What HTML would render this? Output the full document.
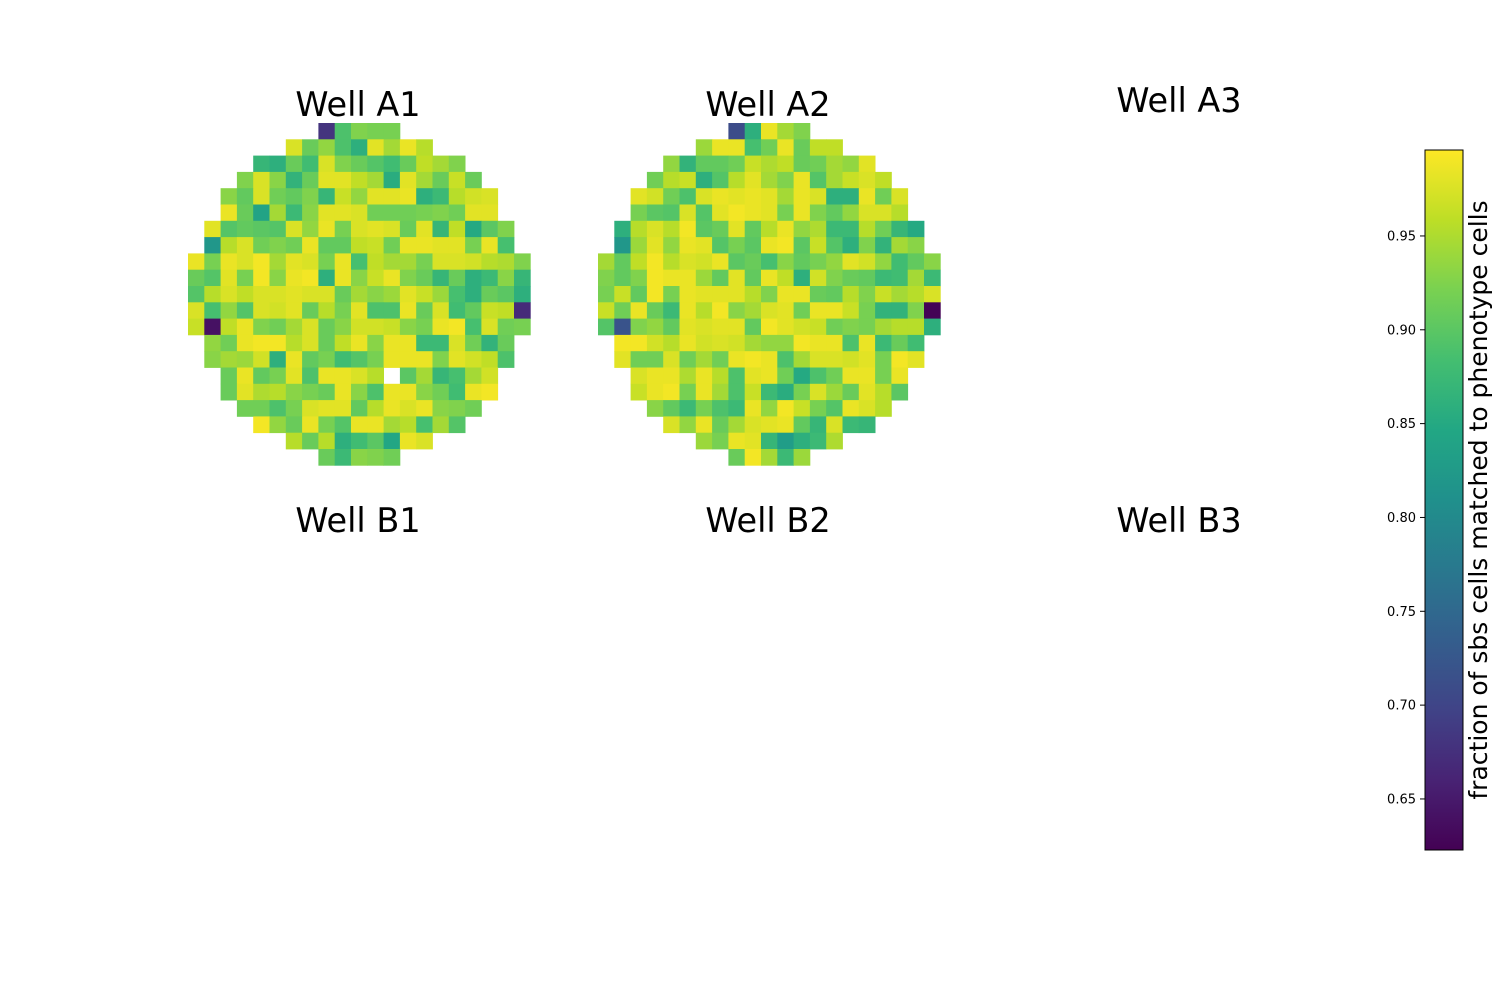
<!DOCTYPE html>
<html><head><meta charset="utf-8"><style>
html,body{margin:0;padding:0;background:#fff;}
svg{display:block;font-family:"DejaVu Sans","Liberation Sans",sans-serif;}
</style></head><body>
<svg id="chart" width="1500" height="1000" viewBox="0 0 1500 1000">
<rect width="1500" height="1000" fill="#fff"/>
<g id="wells"></g>
<g id="titles">
<text x="358" y="116" font-size="33.5" text-anchor="middle">Well A1</text>
<text x="768" y="116" font-size="33.5" text-anchor="middle">Well A2</text>
<text x="1179" y="112" font-size="33.5" text-anchor="middle">Well A3</text>
<text x="358" y="532" font-size="33.5" text-anchor="middle">Well B1</text>
<text x="768" y="532" font-size="33.5" text-anchor="middle">Well B2</text>
<text x="1179" y="532" font-size="33.5" text-anchor="middle">Well B3</text>
</g>
<defs><linearGradient id="cbgrad" x1="0" y1="1" x2="0" y2="0"></linearGradient></defs>
<g id="colorbar"></g>
<text transform="translate(1487,500) rotate(-90)" font-size="25" text-anchor="middle">fraction of sbs cells matched to phenotype cells</text>
</svg>
<script>
// column offsets where each row starts (rows 0..20)
const rowStarts = [8,6,4,3,2,2,1,1,0,0,0,0,0,1,1,2,2,3,4,6,8];
const wellA1 = [
[0.68,0.89,0.925,0.92,0.92],
[0.975,0.91,0.935,0.89,0.86,0.98,0.945,0.985,0.955],
[0.87,0.86,0.91,0.88,0.975,0.925,0.91,0.895,0.88,0.91,0.96,0.945,0.925],
[0.925,0.975,0.93,0.865,0.91,0.98,0.98,0.96,0.945,0.855,0.98,0.945,0.91,0.965,0.91],
[0.93,0.905,0.975,0.915,0.905,0.925,0.87,0.965,0.935,0.98,0.98,0.985,0.86,0.875,0.955,0.97,0.975],
[0.985,0.91,0.84,0.945,0.875,0.93,0.98,0.98,0.975,0.915,0.915,0.915,0.92,0.925,0.915,0.98,0.98],
[0.98,0.895,0.905,0.9,0.895,0.975,0.935,0.985,0.92,0.975,0.98,0.975,0.91,0.98,0.87,0.96,0.85,0.9,0.925],
[0.82,0.955,0.975,0.915,0.925,0.915,0.985,0.905,0.905,0.96,0.965,0.915,0.985,0.985,0.98,0.98,0.92,0.985,0.885],
[0.985,0.92,0.985,0.975,0.99,0.945,0.98,0.975,0.92,0.985,0.885,0.96,0.945,0.945,0.92,0.975,0.975,0.97,0.955,0.95,0.925],
[0.91,0.895,0.98,0.92,0.99,0.93,0.985,0.99,0.86,0.985,0.93,0.965,0.985,0.925,0.91,0.87,0.91,0.86,0.875,0.93,0.87],
[0.895,0.955,0.975,0.96,0.975,0.975,0.98,0.975,0.975,0.91,0.945,0.93,0.94,0.98,0.965,0.94,0.885,0.86,0.91,0.9,0.86],
[0.975,0.885,0.935,0.895,0.975,0.97,0.98,0.91,0.955,0.92,0.98,0.89,0.89,0.985,0.91,0.975,0.88,0.905,0.965,0.96,0.67],
[0.965,0.64,0.96,0.985,0.925,0.915,0.945,0.975,0.91,0.93,0.97,0.97,0.965,0.93,0.92,0.985,0.99,0.885,0.975,0.915,0.92],
[0.935,0.915,0.985,0.99,0.99,0.955,0.975,0.91,0.96,0.985,0.93,0.985,0.985,0.875,0.875,0.975,0.915,0.865,0.91],
[0.93,0.945,0.94,0.97,0.86,0.985,0.905,0.92,0.88,0.895,0.92,0.985,0.985,0.985,0.925,0.98,0.97,0.96,0.89],
[0.91,0.985,0.905,0.92,0.98,0.89,0.985,0.985,0.975,0.955,null,0.9,0.945,0.87,0.885,0.945,0.97],
[0.91,0.98,0.95,0.955,0.93,0.92,0.91,0.985,0.93,0.89,0.985,0.985,0.93,0.915,0.88,0.985,0.99],
[0.915,0.915,0.89,0.92,0.975,0.98,0.98,0.905,0.955,0.985,0.975,0.985,0.93,0.925,0.915],
[0.99,0.935,0.91,0.985,0.92,0.895,0.985,0.985,0.945,0.955,0.885,0.945,0.895],
[0.955,0.91,0.955,0.86,0.88,0.9,0.845,0.985,0.975],
[0.91,0.875,0.93,0.925,0.915]
];
const wellA2 = [
[0.71,0.86,0.985,0.945,0.925],
[0.94,0.985,0.985,0.885,0.915,0.985,0.91,0.96,0.96],
[0.935,0.865,0.905,0.905,0.915,0.965,0.95,0.96,0.91,0.915,0.945,0.935,0.98],
[0.915,0.955,0.965,0.86,0.895,0.955,0.98,0.945,0.925,0.985,0.895,0.945,0.965,0.975,0.96],
[0.98,0.97,0.915,0.89,0.975,0.985,0.98,0.985,0.98,0.945,0.985,0.975,0.86,0.86,0.985,0.915,0.975],
[0.92,0.9,0.895,0.975,0.895,0.98,0.99,0.985,0.98,0.92,0.985,0.925,0.905,0.935,0.975,0.975,0.955],
[0.86,0.955,0.975,0.955,0.99,0.9,0.91,0.98,0.905,0.955,0.985,0.935,0.95,0.875,0.875,0.955,0.915,0.87,0.85],
[0.82,0.94,0.98,0.935,0.985,0.98,0.895,0.92,0.9,0.985,0.99,0.9,0.965,0.895,0.86,0.925,0.865,0.945,0.93],
[0.945,0.905,0.96,0.99,0.955,0.975,0.97,0.985,0.9,0.91,0.885,0.93,0.905,0.92,0.935,0.98,0.97,0.935,0.88,0.905,0.93],
[0.925,0.905,0.925,0.99,0.985,0.985,0.94,0.905,0.98,0.905,0.985,0.96,0.86,0.97,0.925,0.91,0.905,0.875,0.88,0.945,0.875],
[0.92,0.965,0.905,0.99,0.92,0.985,0.98,0.98,0.98,0.955,0.925,0.985,0.985,0.91,0.905,0.955,0.925,0.965,0.945,0.955,0.975],
[0.965,0.915,0.985,0.91,0.875,0.985,0.955,0.99,0.93,0.945,0.975,0.98,0.915,0.985,0.985,0.965,0.92,0.865,0.865,0.925,0.625],
[0.895,0.72,0.925,0.935,0.905,0.98,0.975,0.98,0.98,0.905,0.99,0.98,0.97,0.965,0.915,0.925,0.92,0.945,0.955,0.955,0.86],
[0.99,0.99,0.97,0.955,0.985,0.97,0.975,0.97,0.945,0.935,0.935,0.99,0.985,0.985,0.89,0.985,0.875,0.91,0.88],
[0.98,0.915,0.915,0.975,0.915,0.945,0.915,0.985,0.99,0.985,0.89,0.945,0.975,0.975,0.97,0.98,0.92,0.99,0.98],
[0.975,0.985,0.985,0.95,0.985,0.955,0.89,0.98,0.985,0.915,0.85,0.89,0.915,0.985,0.985,0.92,0.985],
[0.965,0.985,0.99,0.92,0.985,0.945,0.89,0.965,0.875,0.855,0.92,0.975,0.94,0.91,0.98,0.955,0.9],
[0.93,0.905,0.875,0.92,0.89,0.875,0.985,0.935,0.99,0.965,0.92,0.895,0.985,0.975,0.955],
[0.975,0.935,0.985,0.91,0.945,0.975,0.98,0.985,0.905,0.87,0.975,0.875,0.87],
[0.94,0.92,0.985,0.98,0.87,0.83,0.86,0.875,0.95],
[0.91,0.99,0.945,0.875,0.94]
];
const cbTicks = [0.65,0.70,0.75,0.80,0.85,0.90,0.95];
const cbTickLabels = ["0.65","0.70","0.75","0.80","0.85","0.90","0.95"];
const vmin = 0.6228, vmax = 0.9958;

const VIR = [[68,1,84],[72,35,116],[64,67,135],[52,94,141],[41,120,142],[32,144,140],[34,167,132],[68,190,112],[121,209,81],[189,222,38],[253,231,37]];
function viridis(t){
  t=Math.max(0,Math.min(1,t));
  const p=t*(VIR.length-1), i=Math.min(Math.floor(p),VIR.length-2), f=p-i;
  const c=VIR[i].map((v,k)=>Math.round(v+(VIR[i+1][k]-v)*f));
  return `rgb(${c[0]},${c[1]},${c[2]})`;
}
const norm = v => (v-vmin)/(vmax-vmin);
const NS="http://www.w3.org/2000/svg";
const cell = 16.3;
const gridY0 = 123;
function colX(x0,c){return x0 + c*cell;}
function rowY(r){return gridY0 + r*cell;}

function drawWell(data,x0,name){
  const g=document.createElementNS(NS,'g');
  
  
  data.forEach((row,r)=>{
    row.forEach((v,i)=>{
      if(v===null) return;
      const c=rowStarts[r]+i;
      const rect=document.createElementNS(NS,'rect');
      rect.setAttribute('x',colX(x0,c).toFixed(2));
      rect.setAttribute('y',rowY(r).toFixed(2));
      rect.setAttribute('width',(cell+0.4).toFixed(2));
      rect.setAttribute('height',(cell+0.4).toFixed(2));
      rect.setAttribute('fill',viridis(norm(v)));
      
      
      g.appendChild(rect);
    });
  });
  document.getElementById('wells').appendChild(g);
}
drawWell(wellA1,188,'well-a1-heatmap');
drawWell(wellA2,598,'well-a2-heatmap');

// colorbar
const cbX=1425, cbW=38, cbTop=150, cbBot=850;
const grad=document.getElementById('cbgrad');
for(let i=0;i<=20;i++){
  const s=document.createElementNS(NS,'stop');
  s.setAttribute('offset',(i/20));
  s.setAttribute('stop-color',viridis(i/20));
  grad.appendChild(s);
}
const cb=document.getElementById('colorbar');
const cbRect=document.createElementNS(NS,'rect');
cbRect.setAttribute('x',cbX);cbRect.setAttribute('y',cbTop);
cbRect.setAttribute('width',cbW);cbRect.setAttribute('height',cbBot-cbTop);
cbRect.setAttribute('fill','url(#cbgrad)');cbRect.setAttribute('stroke','#000');cbRect.setAttribute('stroke-width','1');


cb.appendChild(cbRect);
const cbY = v => cbBot - (v-vmin)/(vmax-vmin)*(cbBot-cbTop);
cbTicks.forEach((v,i)=>{
  const y=cbY(v);
  const ln=document.createElementNS(NS,'line');
  ln.setAttribute('x1',cbX-5);ln.setAttribute('x2',cbX);
  ln.setAttribute('y1',y);ln.setAttribute('y2',y);
  ln.setAttribute('stroke','#000');ln.setAttribute('stroke-width','1');
  
  
  cb.appendChild(ln);
  const t=document.createElementNS(NS,'text');
  t.setAttribute('x',cbX-9);t.setAttribute('y',y+4.5);
  t.setAttribute('font-size','13');t.setAttribute('text-anchor','end');
  t.textContent=cbTickLabels[i];
  
  
  cb.appendChild(t);
});
</script>
</body></html>
